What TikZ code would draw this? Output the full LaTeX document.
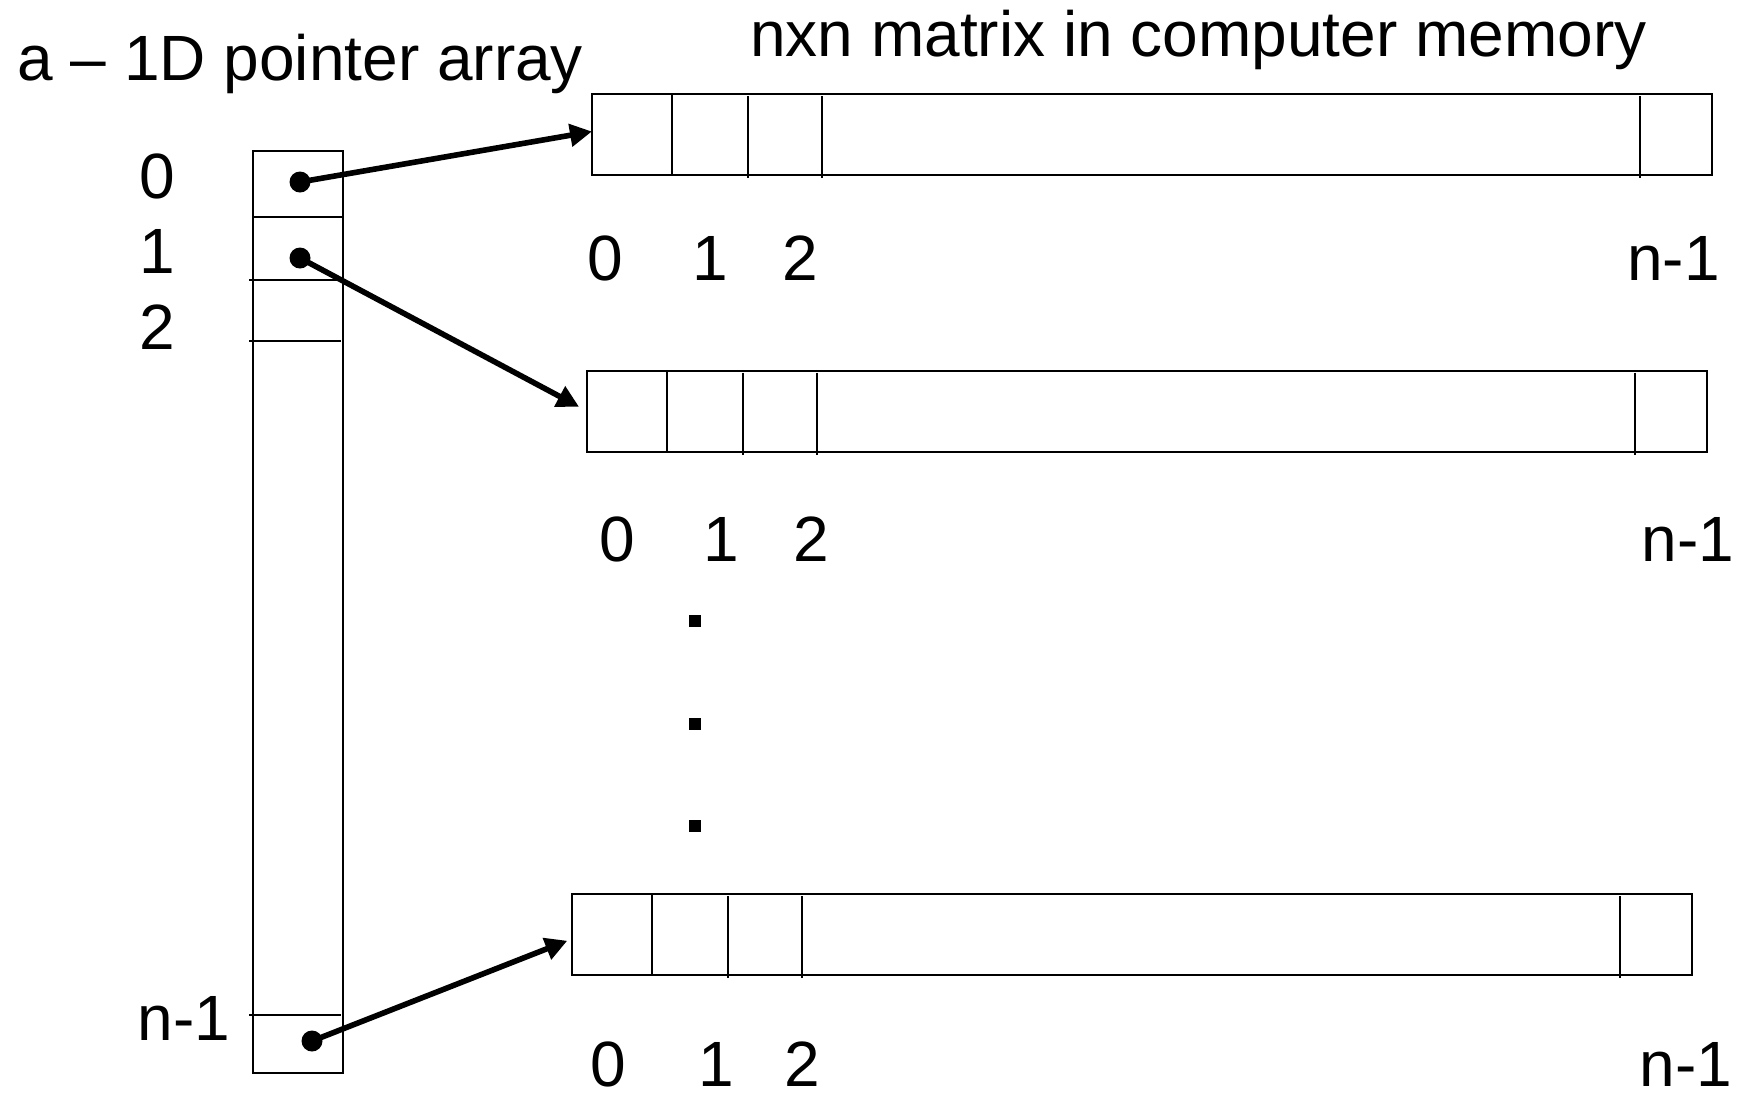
\documentclass[tikz,border=0pt]{standalone}
\usepackage{fontspec}
\setmainfont{Liberation Sans}
\usetikzlibrary{arrows.meta}
\begin{document}
\begin{tikzpicture}[x=0.5pt,y=-0.5pt,
  thinline/.style={line width=1pt},
  rowbox/.style={draw,thinline,minimum width=560pt,minimum height=40.5pt,inner sep=0pt,outer sep=0pt},
  colbox/.style={draw,thinline,minimum width=45pt,minimum height=461pt,inner sep=0pt,outer sep=0pt},
  ptrdot/.style={circle,fill=black,inner sep=0pt,minimum size=10.5pt},
  sq/.style={rectangle,fill=black,inner sep=0pt,minimum size=6pt},
  ptr/.style={line width=2.8pt,-{Triangle[length=11pt,width=11pt]}},
  lbl/.style={anchor=base,inner sep=0pt,font=\fontsize{32}{38}\selectfont},
  ttl/.style={anchor=base west,inner sep=0pt,font=\fontsize{32}{38}\selectfont}]
\useasboundingbox (0,0) rectangle (1737,1094);
% titles
\node[ttl] (t1) at (17,80) {a – 1D pointer array};
\node[ttl] (t2) at (750,56) {nxn matrix in computer memory};
% pointer array column
\node[colbox] (col) at (298,612) {};
\draw[thinline] ([yshift=-33pt]col.north west) -- ([yshift=-33pt]col.north east);
\foreach \o in {64.5,95,432}
  \draw[thinline] ([xshift=-2pt,yshift=-\o pt]col.north west) -- ([xshift=-1pt,yshift=-\o pt]col.north east);
% index labels of column
\node[lbl] (c0) at (157,198) {0};
\node[lbl] (c1) at (157,273) {1};
\node[lbl] (c2) at (157,349) {2};
\node[lbl] (cn) at (184,1040) {n-1};
% rows
\node[rowbox] (r0) at (1152,134.5) {};
\node[rowbox] (r1) at (1147,411) {};
\node[rowbox] (r2) at (1132,934.5) {};
\foreach \r in {r0,r1,r2}{
  \draw[thinline] ([xshift=40pt]\r.north west) -- ([xshift=40pt]\r.south west);
  \foreach \o in {78,115,524}
    \draw[thinline] ([xshift=\o pt,yshift=-1pt]\r.north west) -- ([xshift=\o pt,yshift=-1.5pt]\r.south west);
}
% row labels
\node[lbl] (a0) at (605,280) {0};
\node[lbl] (a1) at (710,280) {1};
\node[lbl] (a2) at (800,280) {2};
\node[lbl,anchor=base east] (an) at (1720,280) {n-1};
\node[lbl] (b0) at (617,561) {0};
\node[lbl] (b1) at (721,561) {1};
\node[lbl] (b2) at (811,561) {2};
\node[lbl] (bn) at (1688,561) {n-1};
\node[lbl] (g0) at (608,1086) {0};
\node[lbl] (g1) at (716,1086) {1};
\node[lbl] (g2) at (802,1086) {2};
\node[lbl] (gn) at (1686,1086) {n-1};
% vertical ellipsis
\node[sq] (e1) at (695,621) {};
\node[sq] (e2) at (695,724) {};
\node[sq] (e3) at (695,826) {};
% pointers
\node[ptrdot] (d0) at (300,182) {};
\node[ptrdot] (d1) at (300,258) {};
\node[ptrdot] (d2) at (312,1041) {};
\draw[ptr] (d0.center) -- ([yshift=1.5pt]r0.west);
\draw[ptr,shorten >=4.5pt] (d1.center) -- (r1.west);
\draw[ptr,shorten >=2.5pt] (d2.center) -- ([yshift=-2.2pt]r2.west);
\end{tikzpicture}
\end{document}
